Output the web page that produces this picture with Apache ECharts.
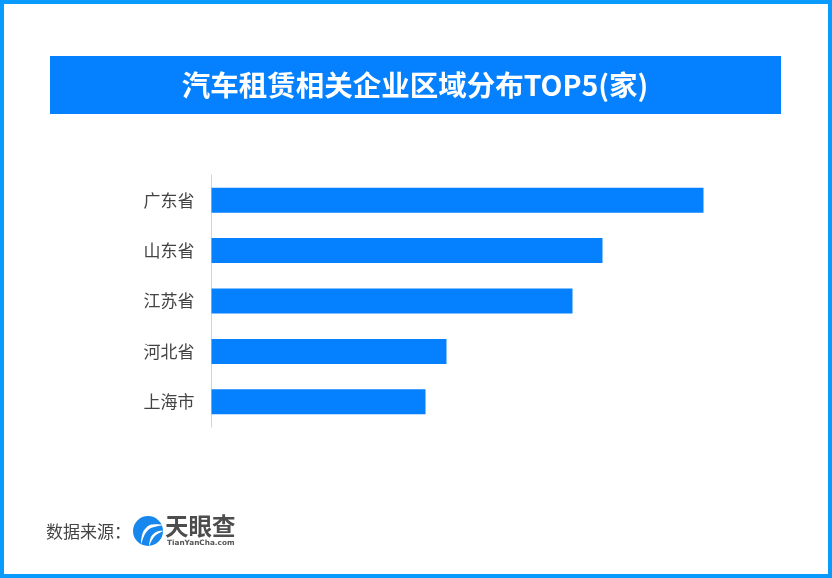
<!DOCTYPE html>
<html>
<head>
<meta charset="utf-8">
<style>
html,body{margin:0;padding:0;background:#fff}
#main{width:832px;height:578px}
</style>
<script src="https://cdn.jsdelivr.net/npm/echarts@6/dist/echarts.min.js"></script>
</head>
<body>
<div id="main"></div>
<script>
var categories = ['广东省', '山东省', '江苏省', '河北省', '上海市'];
// 原图没有数值标注，按条形长度估读
var values = [492, 391, 361, 235, 214];
var titleText = '汽车租赁相关企业区域分布TOP5(家)';
var sourceText = '数据来源：';
var cjk = '"Noto Sans CJK SC"';
var blue = '#0580ff';

var chart = echarts.init(document.getElementById('main'));
chart.setOption({
    backgroundColor: '#fff',
    animation: false,
    grid: {left: 211.5, top: 175, width: 500, height: 252},
    xAxis: {type: 'value', min: 0, max: 500, show: false},
    yAxis: {
        type: 'category',
        inverse: true,
        data: categories,
        axisLine: {lineStyle: {color: '#d4d4d4', width: 1}},
        axisTick: {show: false},
        axisLabel: {color: '#444', fontSize: 17, fontFamily: cjk, margin: 17, padding: [0, 0, 4, 0]}
    },
    series: [{
        type: 'bar',
        data: values,
        barWidth: 25,
        itemStyle: {color: blue}
    }],
    graphic: [
        // 外框
        {type: 'rect', shape: {x: 2, y: 2, width: 828, height: 574},
            style: {fill: 'none', stroke: '#0a9bff', lineWidth: 4}},
        // 标题条
        {type: 'rect', shape: {x: 50, y: 56, width: 731, height: 58}, style: {fill: blue}},
        {type: 'text', x: 415, y: 85.5, style: {
            text: titleText, fill: '#fff', font: 'bold 28.5px ' + cjk,
            textAlign: 'center', textVerticalAlign: 'middle'
        }},
        // 来源
        {type: 'text', x: 46, y: 532, style: {
            text: sourceText, fill: '#444', font: '17px ' + cjk,
            textVerticalAlign: 'middle'
        }},
        // 天眼查标志
        {type: 'circle', shape: {cx: 148, cy: 531, r: 15}, style: {fill: '#1787ee'}},
        {type: 'polygon', shape: {points: [[141, 544], [143, 532], [150, 525], [163, 525], [151, 528], [145, 534]], smooth: 0.3},
            style: {fill: '#fff'}},
        {type: 'polygon', shape: {points: [[149, 546], [151, 537], [156, 532], [163, 531], [156, 535], [152, 540]], smooth: 0.3},
            style: {fill: '#fff'}},
        {type: 'text', x: 165, y: 526, style: {
            text: '天眼查', fill: '#4d4d4d', font: 'bold 23.5px ' + cjk,
            textVerticalAlign: 'middle'
        }},
        {type: 'text', x: 167, y: 543, style: {
            text: 'TianYanCha.com', fill: '#555', font: 'bold 7.3px "DejaVu Sans"',
            textVerticalAlign: 'middle'
        }}
    ]
});
</script>
</body>
</html>
